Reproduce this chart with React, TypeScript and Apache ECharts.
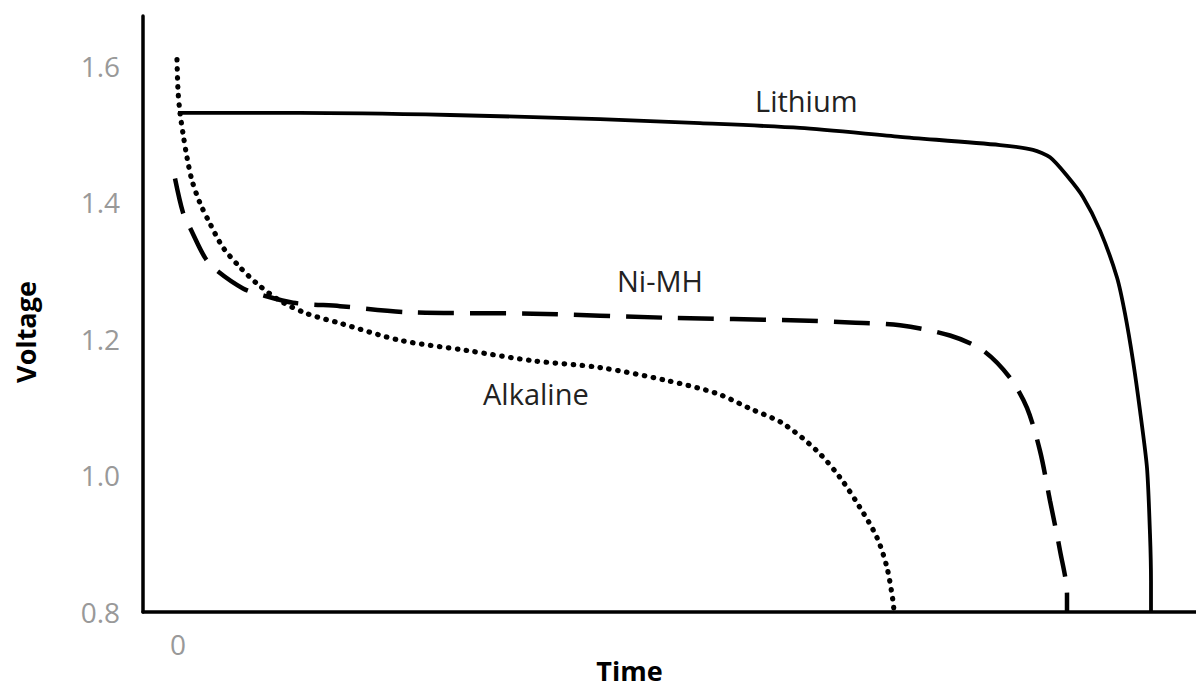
import React, { useEffect, useRef } from "react";
import * as echarts from "echarts";

// Time in arbitrary units, voltage in volts
const lithiumTime = [0, 12.2, 27.2, 42.2, 52.2, 62.2, 72.2, 82.2, 85.5, 87.2, 88.9, 90.5, 92.2, 93.9, 94.7, 95.5, 96.2, 96.9, 97.2, 97.3, 97.3];
const lithiumVolt = [1.531, 1.531, 1.528, 1.522, 1.516, 1.509, 1.496, 1.484, 1.477, 1.466, 1.439, 1.408, 1.359, 1.29, 1.237, 1.168, 1.095, 1.011, 0.914, 0.845, 0.8];

const nimhTime = [-0.3, 0.5, 1.2, 2.7, 3.9, 6.5, 8.5, 11.5, 16.2, 23.2, 35.5, 48.9, 62.2, 67.2, 72.2, 77.2, 80.5, 83.2, 84.9, 86.2, 87.2, 88.2, 88.9, 88.9];
const nimhVolt = [1.435, 1.385, 1.363, 1.319, 1.3, 1.274, 1.264, 1.253, 1.248, 1.239, 1.237, 1.231, 1.227, 1.224, 1.22, 1.205, 1.183, 1.143, 1.099, 1.036, 0.963, 0.89, 0.826, 0.8];

const alkalineTime = [-0.1, 0, 0.2, 0.5, 0.9, 1.4, 2.2, 3.2, 4.5, 6.2, 7.9, 10.2, 12.9, 16.2, 22.2, 28.9, 35.5, 42.2, 48.9, 53.9, 57.2, 60.5, 63.9, 66.2, 68.2, 69.9, 70.9, 71.5, 71.6];
const alkalineVolt = [1.609, 1.564, 1.531, 1.501, 1.466, 1.432, 1.399, 1.369, 1.334, 1.305, 1.281, 1.256, 1.237, 1.223, 1.198, 1.183, 1.168, 1.158, 1.139, 1.12, 1.098, 1.076, 1.036, 0.997, 0.953, 0.909, 0.865, 0.816, 0.8];

const xTickValues = [0];
const seriesNames = ["Lithium", "Ni-MH", "Alkaline"];

const zip = (xs: number[], ys: number[]) => xs.map((x, i) => [x, ys[i]]);

export default function App() {
  const ref = useRef<HTMLDivElement>(null);
  useEffect(() => {
    if (!ref.current) return;
    const chart = echarts.init(ref.current, undefined, { renderer: "svg" });
    const font = "'Open Sans', 'Noto Sans', sans-serif";
    chart.setOption({
      animation: false,
      backgroundColor: "#ffffff",
      grid: { left: 143, right: 0, top: 16, bottom: 76, containLabel: false, outerBoundsMode: "none" },
      xAxis: {
        type: "value",
        min: -3.5,
        max: 101.8,
        name: "Time",
        nameLocation: "middle",
        nameGap: 44,
        nameMoveOverlap: false,
        nameTextStyle: { fontFamily: font, fontSize: 27, fontWeight: "bold", color: "#000", lineHeight: 28, padding: [0, 80, 0, 0] },
        axisLine: { show: true, onZero: false, lineStyle: { color: "#000", width: 3.5 } },
        axisTick: { show: false },
        splitLine: { show: false },
        axisLabel: { customValues: xTickValues, color: "#999", fontFamily: font, fontSize: 28, margin: 18 },
      },
      yAxis: {
        type: "value",
        min: 0.8,
        max: 1.673,
        interval: 0.2,
        name: "Voltage",
        nameLocation: "middle",
        nameRotate: 90,
        nameGap: 104,
        nameMoveOverlap: false,
        nameTextStyle: { fontFamily: font, fontSize: 27, fontWeight: "bold", color: "#000", padding: [0, 36, 0, 0] },
        axisLine: { show: true, onZero: false, lineStyle: { color: "#000", width: 3.5 } },
        axisTick: { show: false },
        splitLine: { show: false },
        axisLabel: { color: "#999", fontFamily: font, fontSize: 28, margin: 23, showMaxLabel: false, formatter: (v: number) => v.toFixed(1) },
      },
      series: [
        {
          name: seriesNames[0],
          type: "line",
          data: zip(lithiumTime, lithiumVolt),
          showSymbol: false,
          smooth: 0.25,
          lineStyle: { color: "#000", width: 3.8 },
        },
        {
          name: seriesNames[1],
          type: "line",
          data: zip(nimhTime, nimhVolt),
          showSymbol: false,
          smooth: 0.3,
          lineStyle: { color: "#000", width: 4.5, type: [36, 16] },
        },
        {
          name: seriesNames[2],
          type: "line",
          data: zip(alkalineTime, alkalineVolt),
          showSymbol: false,
          smooth: 0.3,
          lineStyle: { color: "#000", width: 5.2, type: [0.5, 8.5], cap: "round" },
        },
      ],
      graphic: [
        { type: "text", left: 755, top: 86, style: { text: seriesNames[0], fontFamily: font, fontSize: 29, fill: "#222" } },
        { type: "text", left: 617, top: 266, style: { text: seriesNames[1], fontFamily: font, fontSize: 29, fill: "#222" } },
        { type: "text", left: 483, top: 379, style: { text: seriesNames[2], fontFamily: font, fontSize: 29, fill: "#222" } },
      ],
    });
    return () => chart.dispose();
  }, []);
  return <div ref={ref} style={{ position: "absolute", left: 0, top: 0, width: 1196, height: 688 }} />;
}
